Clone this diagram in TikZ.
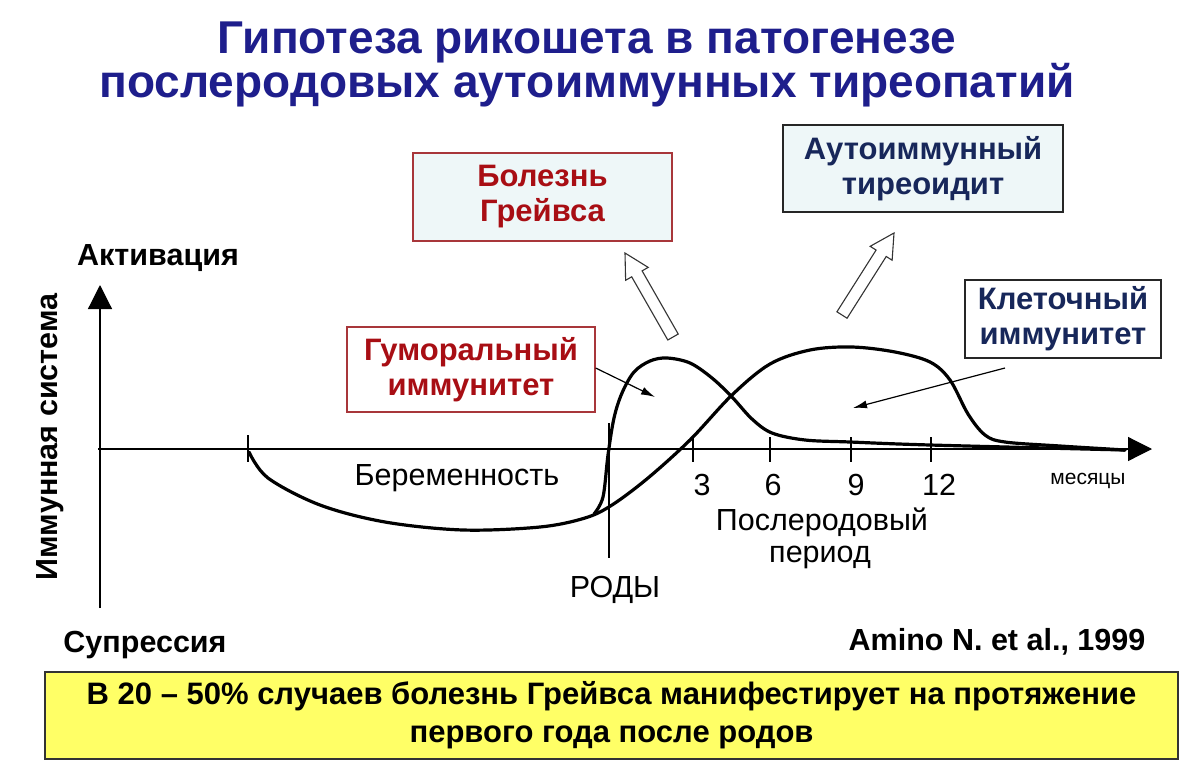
\documentclass[tikz,border=0pt]{standalone}
\usepackage{fontspec}
\setmainfont{Liberation Sans}
\usetikzlibrary{arrows.meta,calc}
\definecolor{titleblue}{HTML}{1E1E8C}
\definecolor{navytxt}{HTML}{17275A}
\definecolor{redtxt}{HTML}{A80E14}
\definecolor{redframe}{HTML}{A8363A}
\definecolor{paleblue}{HTML}{EEF7F8}
\definecolor{yellowbox}{HTML}{FFFF66}
\newcommand{\hollowarrow}[2]{%
  \coordinate (H) at ($(#2)!24pt!(#1)$);
  \draw[hollowarr] ($(#1)!6pt!90:(#2)$) -- ($(H)!6pt!90:(#2)$) -- ($(H)!13pt!90:(#2)$) -- (#2)
    -- ($(H)!13pt!-90:(#2)$) -- ($(H)!6pt!-90:(#2)$) -- ($(#1)!6pt!-90:(#2)$) -- cycle;}
\begin{document}
\begin{tikzpicture}[x=1pt,y=-1pt,
  titletxt/.style={font=\bfseries\fontsize{46}{46}\selectfont, text=titleblue, inner sep=0},
  boxtxt/.style={font=\bfseries\fontsize{31}{35}\selectfont, align=center, inner sep=0},
  redbox/.style={draw=redframe, line width=1.3pt, boxtxt, text=redtxt},
  bluebox/.style={draw=black!85, line width=1.3pt, boxtxt, text=navytxt},
  axislbl/.style={font=\bfseries\fontsize{30.5}{30.5}\selectfont, inner sep=0},
  plainlbl/.style={font=\fontsize{30.5}{30.5}\selectfont, inner sep=0},
  axisline/.style={line width=1.2pt, -{Triangle[length=24pt,width=24pt]}},
  tickline/.style={line width=1.2pt},
  curve/.style={line width=3.2pt, line cap=round, line join=round},
  pointer/.style={line width=1.2pt, -{Latex[length=14pt,width=8pt]}},
  hollowarr/.style={draw=black!80, line width=1.1pt, fill=white, line join=miter}
]
\useasboundingbox (0,0) rectangle (1200,764);
\fill[white] (0,0) rectangle (1200,764);

% title
\node[titletxt] (t1) at (587,42) {Гипотеза рикошета в патогенезе};
\node[titletxt] (t2) at (587,85) {послеродовых аутоиммунных тиреопатий};

% boxes
\node[redbox, fill=paleblue, minimum width=259pt, minimum height=88pt] (graves) at (542.5,197) {Болезнь\\Грейвса};
\node[bluebox, fill=paleblue, minimum width=280pt, minimum height=87pt] (thyr) at (923,168.5) {Аутоиммунный\\тиреоидит};
\node[redbox, fill=white, minimum width=248pt, minimum height=85pt] (humor) at (471,369.5) {Гуморальный\\иммунитет};
\node[bluebox, fill=white, minimum width=196pt, minimum height=78pt] (cell) at (1063,319) {Клеточный\\иммунитет};

% axes
\coordinate (yb) at (100,608);
\coordinate (yt) at (100,285);
\coordinate (xl) at (98,449);
\coordinate (xr) at (1152,449);
\draw[axisline] (yb) -- (yt);
\draw[axisline] (xl) -- (xr);

% ticks
\coordinate (p0a) at (248,435); \coordinate (p0b) at (248,462);
\draw[tickline] (p0a) -- (p0b);
\coordinate (rodA) at (609,423); \coordinate (rodB) at (609,558);
\draw[tickline] (rodA) -- (rodB);
\foreach \x/\n in {693/3,770/6,851/9,931/12}{
  \coordinate (ta\n) at (\x,437); \coordinate (tb\n) at (\x,462);
  \draw[tickline] (ta\n) -- (tb\n);
}

% curves
\draw[curve] plot[smooth, tension=0.55] coordinates {(249,452) (268,478) (320,505) (385,522) (463,530) (540,527) (585,518) (612,505) (648,478) (690,440) (732,395) (770,364) (810,350) (852,347) (895,352) (930,362) (950,380) (968,414) (985,435) (1005,442) (1060,446) (1125,450)};
\draw[curve] plot[smooth, tension=0.55] coordinates {(594,514) (603,497) (608,455) (614,418) (622,393) (634,372) (650,361) (667,358) (690,363) (712,378) (732,397) (752,419) (772,433) (805,440) (850,442) (930,445) (1125,450)};

% hollow arrows
\coordinate (gA) at (673,337);
\coordinate (gB) at (625,253);
\hollowarrow{gA}{gB}
\coordinate (aA) at (842,315);
\coordinate (aB) at (894,233);
\hollowarrow{aA}{aB}

% pointers
\coordinate (hp) at (655,397);
\draw[pointer] (humor.east |- 0,368) -- (hp);
\coordinate (cs) at (1005,368);
\coordinate (cp) at (853,408);
\draw[pointer] (cs) -- (cp);

% labels
\node[axislbl] (act) at (158,258) {Активация};
\node[axislbl, rotate=90] (imm) at (50,437) {Иммунная система};
\node[axislbl] (sup) at (145,645) {Супрессия};
\node[axislbl] (ref) at (997,642) {Amino N. et al., 1999};
\node[plainlbl] (preg) at (457,478) {Беременность};
\node[plainlbl] (rody) at (615,590) {РОДЫ};
\node[plainlbl] (n3) at (702,485) {3};
\node[plainlbl] (n6) at (773,485) {6};
\node[plainlbl] (n9) at (856,485) {9};
\node[plainlbl] (n12) at (939,485) {12};
\node[font=\fontsize{21}{21}\selectfont, inner sep=0] (mon) at (1088,481) {месяцы};
\node[plainlbl] (post1) at (822,522) {Послеродовый};
\node[plainlbl] (post2) at (820,557) {период};

% yellow box
\node[draw=black!80, line width=2pt, fill=yellowbox, minimum width=1133pt, minimum height=87pt,
  font=\bfseries\fontsize{31}{38}\selectfont, align=center, inner sep=0] (note) at (611.5,715.5)
  {В 20 – 50\% случаев болезнь Грейвса манифестирует на протяжение\\первого года после родов};
\end{tikzpicture}
\end{document}
